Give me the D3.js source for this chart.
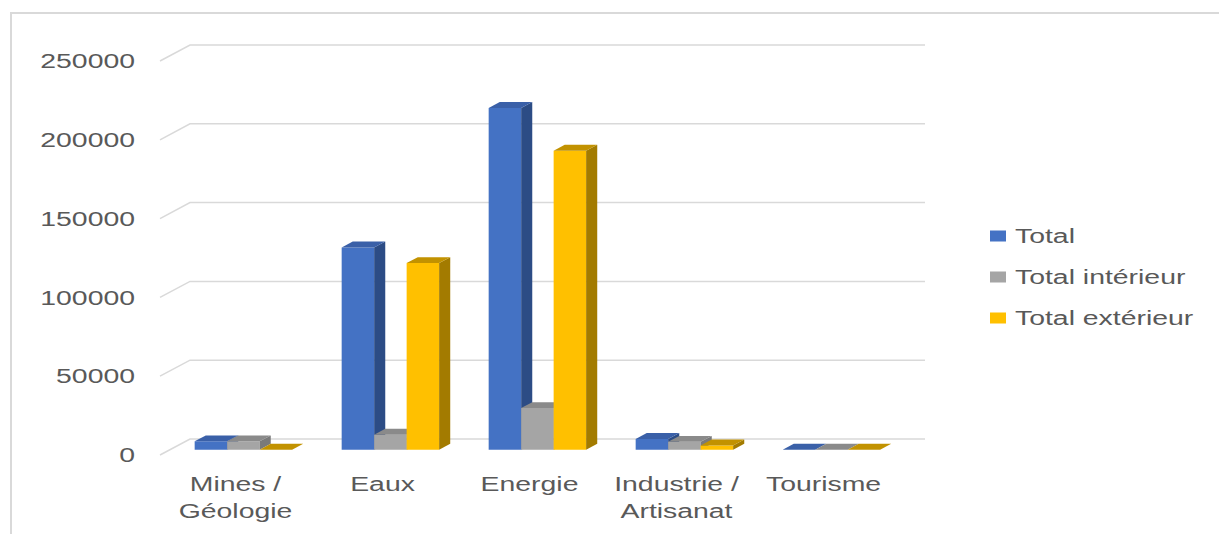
<!DOCTYPE html>
<html>
<head>
<meta charset="utf-8">
<script src="https://cdn.jsdelivr.net/npm/d3@7"></script>
<style>
  body { margin: 0; background: #fff; }
  svg text { font-family: "Liberation Sans", Arial, sans-serif; fill: #595959; }
</style>
</head>
<body>
<div id="chart"></div>
<script>
// Data
const categories = [["Mines /", "Géologie"], ["Eaux"], ["Energie"], ["Industrie /", "Artisanat"], ["Tourisme"]];
const seriesNames = ["Total", "Total intérieur", "Total extérieur"];
const totalValues = [5300, 128300, 216800, 6800, 0];
const interieurValues = [5300, 9500, 26400, 5000, 0];
const exterieurValues = [0, 118400, 189700, 2700, 0];
const yTicks = [0, 50000, 100000, 150000, 200000, 250000];

const seriesValues = [totalValues, interieurValues, exterieurValues];
const colors = [
    { front: "#4472C4", side: "#2c4c85", top: "#3a60a8" },
    { front: "#A5A5A5", side: "#7a7a7a", top: "#8a8a8a" },
    { front: "#FFC000", side: "#a37b00", top: "#c29200" }
];

const width = 1219, height = 534;
const x0 = 160, x1 = 895, y0 = 455;   // front edge of the floor
const depth = { dx: 30, dy: -16 };    // full depth vector of the 3D box
const barD0 = 0.33, barD1 = 0.7;      // depth slice occupied by bars
const fontScale = 1.42;               // source picture is stretched horizontally

const svg = d3.select("#chart").append("svg")
    .attr("width", width)
    .attr("height", height);

// chart frame
svg.append("path")
    .attr("d", `M11,${height} L11,13 L${width},13`)
    .attr("fill", "none")
    .attr("stroke", "#d9d9d9")
    .attr("stroke-width", 2);

// Scales
const xScale = d3.scaleBand()
    .domain(d3.range(categories.length))
    .range([x0, x1])
    .paddingInner(0.337)
    .paddingOuter(0.1685);
const xSub = d3.scaleBand()
    .domain(d3.range(seriesNames.length))
    .range([0, xScale.bandwidth()]);
const hScale = d3.scaleLinear().domain([0, 250000]).range([0, 394]);

const px = (x, d) => x + d * depth.dx;
const py = (v, d) => y0 - hScale(v) + d * depth.dy;

// Gridlines on the back wall + diagonal on the side
const grid = svg.append("g");
yTicks.forEach(t => {
    grid.append("path")
        .attr("d", `M${px(x0, 0)},${py(t, 0)} L${px(x0, 1)},${py(t, 1)} L${px(x1, 1)},${py(t, 1)}`)
        .attr("fill", "none")
        .attr("stroke", "#d9d9d9")
        .attr("stroke-width", 1.5);
});

// Y tick labels
svg.append("g").selectAll("text")
    .data(yTicks)
    .join("text")
    .attr("transform", d => `translate(135, ${py(d, 0)}) scale(${fontScale},1)`)
    .attr("text-anchor", "end")
    .attr("dy", "0.36em")
    .style("font-size", "20px")
    .text(d => d);

// Bars (drawn left to right so later front faces cover earlier side faces)
const bars = svg.append("g");
categories.forEach((c, ci) => {
    seriesValues.forEach((vals, si) => {
        const v = vals[ci];
        const xl = xScale(ci) + xSub(si);
        const xr = xl + xSub.bandwidth();
        const col = colors[si];
        const g = bars.append("g");
        const A = (x, val, d) => `${px(x, d)},${py(val, d)}`;
        if (hScale(v) > 0.5) {
            // front face
            g.append("polygon")
                .attr("points", [A(xl, 0, barD0), A(xr, 0, barD0), A(xr, v, barD0), A(xl, v, barD0)].join(" "))
                .attr("fill", col.front);
            // side face
            g.append("polygon")
                .attr("points", [A(xr, 0, barD0), A(xr, 0, barD1), A(xr, v, barD1), A(xr, v, barD0)].join(" "))
                .attr("fill", col.side);
        }
        // top face
        g.append("polygon")
            .attr("points", [A(xl, v, barD0), A(xr, v, barD0), A(xr, v, barD1), A(xl, v, barD1)].join(" "))
            .attr("fill", col.top);
    });
});

// X labels
const xl = svg.append("g");
categories.forEach((lines, ci) => {
    const cx = xScale(ci) + xScale.bandwidth() / 2 + 2;
    lines.forEach((line, li) => {
        xl.append("text")
            .attr("transform", `translate(${cx}, ${484 + li * 27}) scale(${fontScale},1)`)
            .attr("text-anchor", "middle")
            .attr("dy", "0.36em")
            .style("font-size", "20px")
            .text(line);
    });
});

// Legend
const legend = svg.append("g").selectAll("g")
    .data(seriesNames)
    .join("g")
    .attr("transform", (d, i) => `translate(990, ${236 + i * 41})`);
legend.append("rect")
    .attr("x", 0).attr("y", -5.5)
    .attr("width", 16).attr("height", 11)
    .attr("fill", (d, i) => colors[i].front);
legend.append("text")
    .attr("transform", `translate(25, 0) scale(${fontScale},1)`)
    .attr("dy", "0.36em")
    .style("font-size", "20px")
    .text(d => d);
</script>
</body>
</html>
